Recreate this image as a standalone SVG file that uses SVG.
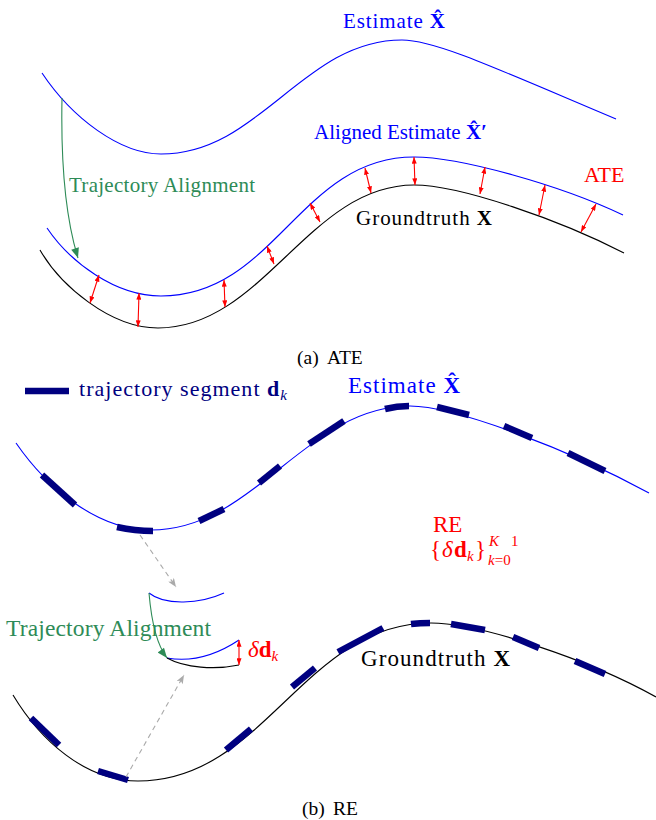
<svg xmlns="http://www.w3.org/2000/svg" width="656" height="820" viewBox="0 0 656 820">
<style>
.t{font-family:"Liberation Serif","Times New Roman",serif}
.b{font-weight:bold}
.i{font-style:italic}
.blue{fill:#0000ff}
.red{fill:#ff0000}
.green{fill:#2e8b57}
.navy{fill:#000080}
.blk{fill:#000000}
.cb{fill:none;stroke:#0000ff;stroke-width:1.1}
.ck{fill:none;stroke:#000000;stroke-width:1.1}
.seg{fill:none;stroke:#000080;stroke-width:6.5;stroke-linecap:butt}
.err{stroke:#ff0000;stroke-width:1.1;fill:none;marker-start:url(#ra);marker-end:url(#ra)}
.ga{stroke:#2e8b57;stroke-width:1.1;fill:none;marker-end:url(#ga)}
.gr{stroke:#aaaaaa;stroke-width:1.1;fill:none;stroke-dasharray:5 4;marker-end:url(#gy)}
</style>
<defs>
<marker id="ra" viewBox="0 0 8 6" refX="8" refY="3" markerWidth="7" markerHeight="5" markerUnits="userSpaceOnUse" orient="auto-start-reverse"><path d="M0,0 L8,3 L0,6 z" fill="#ff0000"/></marker>
<marker id="ga" viewBox="0 0 10 8" refX="10" refY="4" markerWidth="11" markerHeight="8" markerUnits="userSpaceOnUse" orient="auto"><path d="M0,0 L10,4 L0,8 z" fill="#2e8b57"/></marker>
<marker id="gy" viewBox="0 0 10 8" refX="10" refY="4" markerWidth="10" markerHeight="7" markerUnits="userSpaceOnUse" orient="auto"><path d="M0,0 L10,4 L0,8 L2.5,4 z" fill="#aaaaaa"/></marker>
</defs>

<!-- (a) ATE -->
<g id="estimate-top">
<path class="cb" d="M42,73 C72,118 120,154 161,154 C260,154 303,40 402,40 C435,40 495,68 616,119"/>
<text class="t blue" x="343" y="28" font-size="21" textLength="102">Estimate <tspan class="b">X̂</tspan></text>
</g>
<g id="aligned-estimate">
<path class="cb" d="M47,228 C70,262 115,296 161,296 C275,296 300,157 414,157 C460,157 560,185 623,215"/>
<text class="t blue" x="314" y="139" font-size="21" textLength="173">Aligned Estimate <tspan class="b">X̂′</tspan></text>
</g>
<g id="groundtruth-top">
<path class="ck" d="M40,250 C60,285 110,328 158,328 C263,328 309,185 414,185 C460,185 560,220 624,253"/>
<text class="t blk" x="356" y="225" font-size="21" textLength="136">Groundtruth <tspan class="b">X</tspan></text>
</g>
<g id="ate-label">
<text class="t red" x="584" y="182" font-size="22">ATE</text>
</g>
<g id="alignment-label-top">
<text class="t green" x="69" y="192" font-size="21" textLength="186">Trajectory Alignment</text>
</g>
<g id="caption-a">
<text class="t blk" x="297" y="364" font-size="19.5">(a)</text>
<text class="t blk" x="327" y="364" font-size="19.5">ATE</text>
</g>

<!-- (b) RE -->
<g id="legend">
<line class="seg" x1="25" y1="391" x2="69" y2="391"/>
<text class="t navy" x="79" y="396" font-size="22" textLength="208">trajectory segment <tspan class="b">d</tspan><tspan class="i" font-size="15" dy="4">k</tspan></text>
</g>
<g id="estimate-bottom">
<path class="cb" d="M16,443 C45,485 95,530 151,530 C255,530 306,406 410,406 C455,406 570,450 649,493"/>
<path class="seg" d="M42,475 L75,505"/>
<path class="seg" d="M117,527 Q135,531 153,531"/>
<path class="seg" d="M199,521 L224,509"/>
<path class="seg" d="M259,483 L280,466"/>
<path class="seg" d="M309,444 L344,421"/>
<path class="seg" d="M385,409 Q397,406 409,406"/>
<path class="seg" d="M437,407 L469,415"/>
<path class="seg" d="M504,426 L532,438"/>
<path class="seg" d="M568,453 L605,471"/>
<text class="t blue" x="348" y="393" font-size="23" textLength="112">Estimate <tspan class="b">X̂</tspan></text>
</g>
<g id="re-label">
<text class="t red" x="433" y="532" font-size="23">RE</text>
<text class="t red" x="430" y="557" font-size="23">{</text>
<text class="t red i" x="442" y="557" font-size="23">δ</text>
<text class="t red b" x="454" y="557" font-size="23">d</text>
<text class="t red i" x="467" y="561" font-size="15">k</text>
<text class="t red" x="475" y="557" font-size="23">}</text>
<text class="t red i" x="489" y="546" font-size="15">K</text>
<text class="t red" x="511" y="546" font-size="15">1</text>
<text class="t red" x="488" y="565" font-size="15"><tspan class="i">k</tspan>=0</text>
</g>
<g id="segment-estimate">
<path class="cb" d="M149,593 C165,606 200,604 224,593"/>
</g>
<g id="segment-aligned">
<path class="cb" d="M167,658 C190,662 215,656 239,640"/>
</g>
<g id="segment-groundtruth">
<path class="ck" d="M167,658 C185,668 215,670 239,665"/>
</g>
<g id="delta-label">
<text class="t red" x="248" y="657" font-size="23"><tspan class="i">δ</tspan><tspan class="b">d</tspan><tspan class="i" font-size="15" dy="4">k</tspan></text>
</g>
<g id="alignment-label-bottom">
<text class="t green" x="6" y="636" font-size="23.5" textLength="205">Trajectory Alignment</text>
</g>
<g id="groundtruth-bottom">
<path class="ck" d="M13,695 C40,740 85,781 138,781 C265,781 304,623 431,623 C480,623 590,660 656,697"/>
<path class="seg" d="M31,718 L59,745"/>
<path class="seg" d="M98,771 L128,780"/>
<path class="seg" d="M226,750 L251,729"/>
<path class="seg" d="M292,687 L315,668"/>
<path class="seg" d="M338,652 L383,628"/>
<path class="seg" d="M411,624 Q420,623 430,623"/>
<path class="seg" d="M451,624 L485,630"/>
<path class="seg" d="M513,637 L539,648"/>
<path class="seg" d="M575,661 L605,674"/>
<text class="t blk" x="361" y="666" font-size="23" textLength="149">Groundtruth <tspan class="b">X</tspan></text>
</g>
<g id="caption-b">
<text class="t blk" x="302" y="815" font-size="19.5">(b)</text>
<text class="t blk" x="333" y="815" font-size="19.5">RE</text>
</g>

<g id="connectors">
<path class="ga" d="M62,98 Q60,200 78,258"/>
<path class="err" d="M99,275 L90,303"/>
<path class="err" d="M139,293 L138,327"/>
<path class="err" d="M224,280 L225,307"/>
<path class="err" d="M267,246 L274,264"/>
<path class="err" d="M310,203 L320,222"/>
<path class="err" d="M365,168 L371,193"/>
<path class="err" d="M414,157 L415,185"/>
<path class="err" d="M485,167 L480,194"/>
<path class="err" d="M545,185 L539,215"/>
<path class="err" d="M596,204 L581,232"/>
<path class="gr" d="M140,535 L176,587"/>
<path class="gr" d="M126,777 L184,675"/>
<path class="ga" d="M149,593 Q153,640 167,658"/>
<path class="err" d="M239,640 L239,665"/>
</g>
</svg>
